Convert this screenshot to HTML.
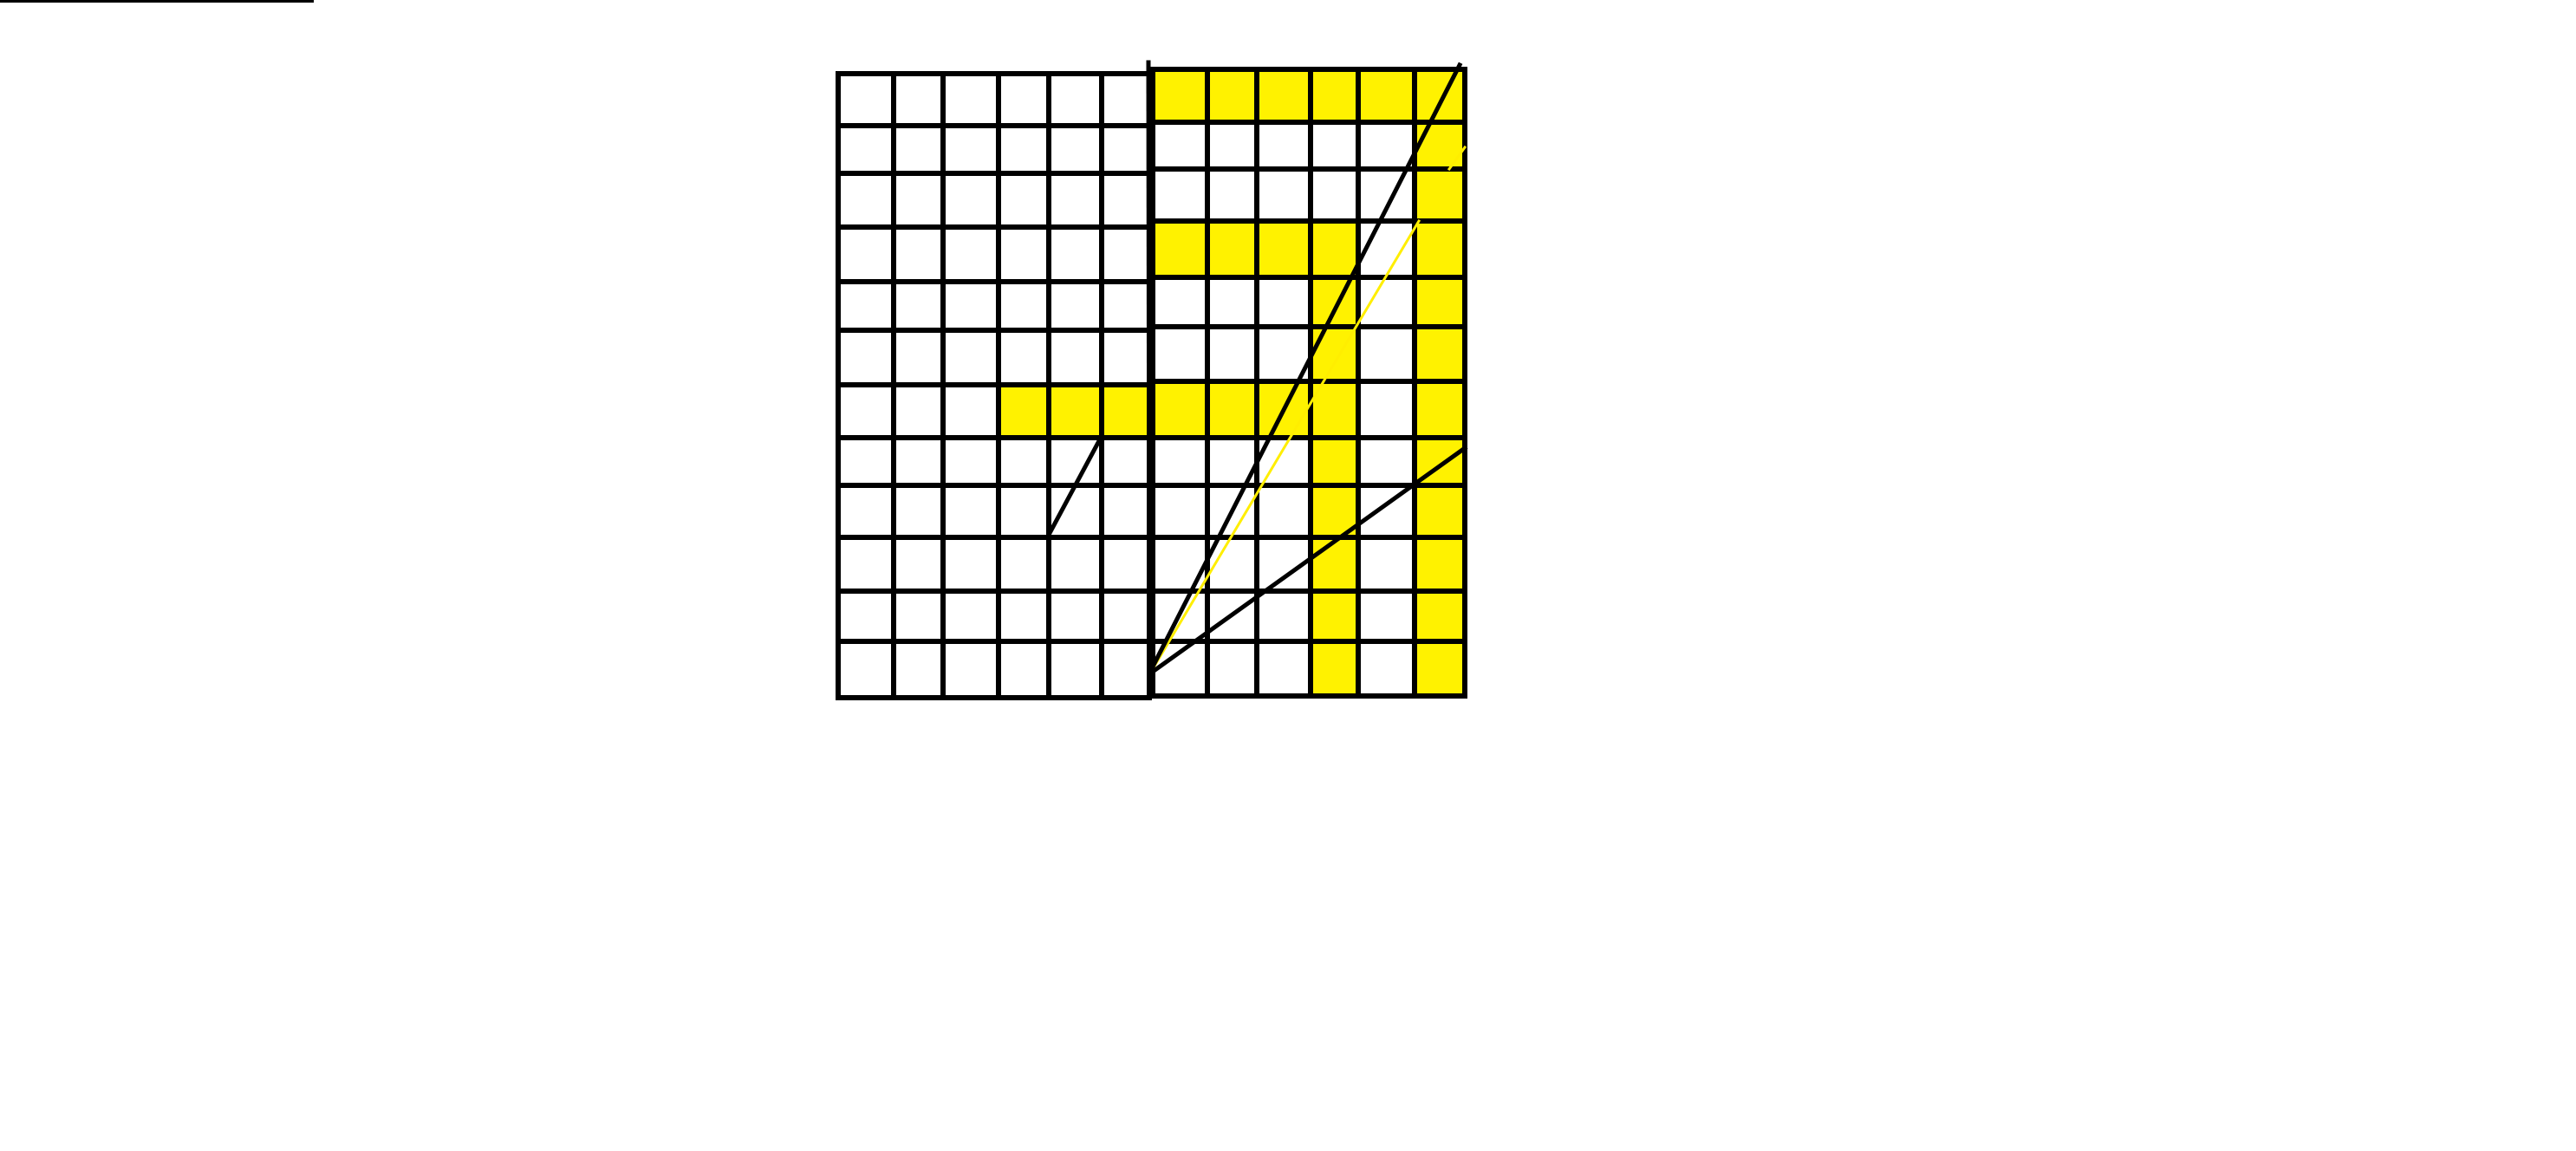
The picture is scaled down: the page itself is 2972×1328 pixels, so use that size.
<!DOCTYPE html>
<html><head><meta charset="utf-8"><style>
html,body{margin:0;padding:0;background:#fff;}
svg{display:block;}
</style></head><body>
<svg width="2972" height="1328" viewBox="0 0 2972 1328" id="s">
<rect x="0" y="0" width="2972" height="1328" fill="#fff"/>
<line x1="0" y1="1.5" x2="362" y2="1.5" stroke="#000" stroke-width="3"/>
<g id="cells"></g>
<g id="grid"></g>
<g id="diag"></g>
</svg>
<script>
const leftCols=[967,1031,1088,1152,1210,1271,1326];
const rightCols=[1330,1393,1450,1512,1567,1632,1690];
const leftRows=[85,145,200,262,325,381,444,505,560,620,682,740,805];
const rightRows=[80,141,195,255,320,377,440,505,560,620,682,740,803];
// yellow cells: [half, col, row]
const yellowCells=[
['R',0,0],['R',1,0],['R',2,0],['R',3,0],['R',4,0],['R',5,0],
['R',5,1],['R',5,2],
['R',0,3],['R',1,3],['R',2,3],['R',3,3],['R',5,3],
['R',3,4],['R',5,4],['R',3,5],['R',5,5],
['L',3,6],['L',4,6],['L',5,6],['R',0,6],['R',1,6],['R',2,6],['R',3,6],['R',5,6],
['R',3,7],['R',5,7],['R',3,8],['R',5,8],['R',3,9],['R',5,9],['R',3,10],['R',5,10],['R',3,11],['R',5,11]
];
const ns='http://www.w3.org/2000/svg';
const cg=document.getElementById('cells');
yellowCells.forEach(c=>{
  const cols=c[0]==='L'?leftCols:rightCols, rows=c[0]==='L'?leftRows:rightRows;
  const r=document.createElementNS(ns,'rect');
  r.setAttribute('x',cols[c[1]]);r.setAttribute('y',rows[c[2]]);
  r.setAttribute('width',cols[c[1]+1]-cols[c[1]]);r.setAttribute('height',rows[c[2]+1]-rows[c[2]]);
  r.setAttribute('fill','#fff200');
  
  
  cg.appendChild(r);
});
const gg=document.getElementById('grid');
function ln(g,x1,y1,x2,y2,col,w,name){
  const l=document.createElementNS(ns,'line');
  l.setAttribute('x1',x1);l.setAttribute('y1',y1);l.setAttribute('x2',x2);l.setAttribute('y2',y2);
  l.setAttribute('stroke',col);l.setAttribute('stroke-width',w);l.setAttribute('stroke-linecap','square');
  
  
  g.appendChild(l);
}
leftCols.forEach(x=>ln(gg,x,leftRows[0],x,leftRows[12],'#000',6,'grid-vline'));
leftRows.forEach(y=>ln(gg,leftCols[0],y,leftCols[6],y,'#000',6,'grid-hline'));
rightCols.forEach(x=>ln(gg,x,rightRows[0],x,rightRows[12],'#000',6,'grid-vline'));
rightRows.forEach(y=>ln(gg,rightCols[0],y,rightCols[6],y,'#000',6,'grid-hline'));
ln(gg,1325,72,1326,785,'#000',5,'axis-vline');
const dg=document.getElementById('diag');
ln(dg,1328,775,1637,255,'#ffee00',3,'diagonal-yellow');
ln(dg,1672,195,1690,170,'#ffee00',3,'diagonal-yellow-tail');
ln(dg,1327,775,1684,75,'#000',5,'diagonal-steep');
ln(dg,1327,777,1690,517,'#000',5,'diagonal-shallow');
ln(dg,1210,617,1270,505,'#000',5,'diagonal-short');
</script>
</body></html>
